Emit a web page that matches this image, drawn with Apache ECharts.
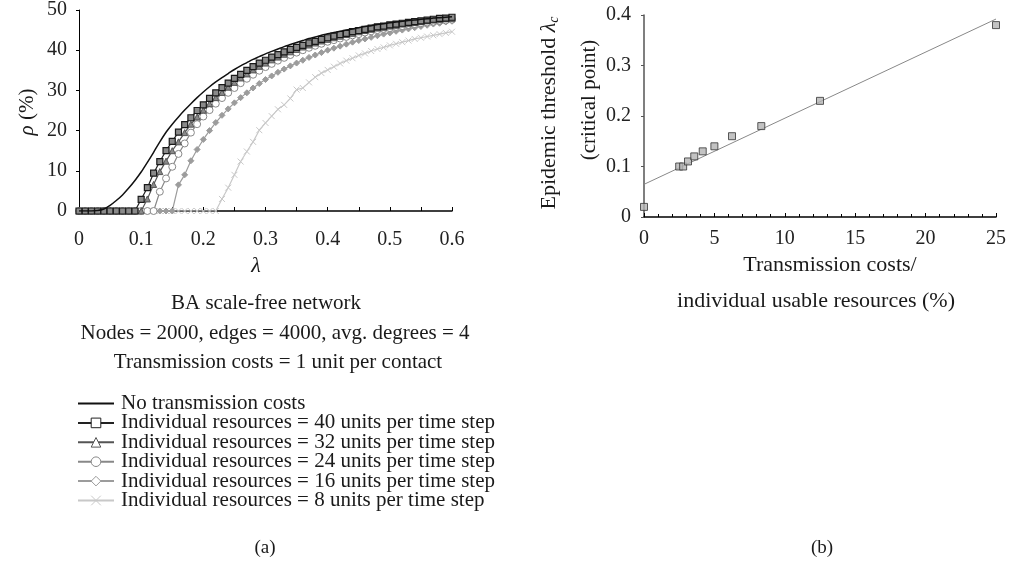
<!DOCTYPE html>
<html><head><meta charset="utf-8">
<script src="https://cdn.jsdelivr.net/npm/echarts@6/dist/echarts.min.js"></script>
<style>html,body{margin:0;padding:0;background:#fff}#c{width:1009px;height:571px}</style>
</head><body><div id="c"></div>
<script>
// ---- Panel (a) data ----
const lambdaVals = [0,0.01,0.02,0.03,0.04,0.05,0.06,0.07,0.08,0.09,0.10,0.11,0.12,0.13,0.14,0.15,0.16,0.17,0.18,0.19,0.20,0.21,0.22,0.23,0.24,0.25,0.26,0.27,0.28,0.29,0.30,0.31,0.32,0.33,0.34,0.35,0.36,0.37,0.38,0.39,0.40,0.41,0.42,0.43,0.44,0.45,0.46,0.47,0.48,0.49,0.50,0.51,0.52,0.53,0.54,0.55,0.56,0.57,0.58,0.59,0.60];
const noCost = [0,0,0,0.1,0.5,1.4,2.6,4.0,5.7,7.6,9.7,12.1,14.6,17.2,19.6,21.6,23.4,25.1,26.7,28.2,29.6,30.9,32.1,33.2,34.2,35.2,36.1,36.9,37.7,38.4,39.1,39.7,40.3,40.9,41.4,41.9,42.4,42.9,43.3,43.7,44.1,44.4,44.7,45.0,45.3,45.6,45.9,46.1,46.4,46.6,46.8,47.0,47.2,47.4,47.5,47.7,47.8,48.0,48.1,48.2,48.3];
const res40 = [0,0,0,0,0,0,0,0,0,0,2.9,5.8,9.4,12.3,15.0,17.3,19.6,21.5,23.2,25.0,26.4,28.0,29.4,30.7,31.8,33.0,34.0,35.0,35.9,36.8,37.5,38.3,38.9,39.6,40.2,40.7,41.2,41.8,42.2,42.7,43.1,43.5,43.9,44.2,44.6,44.9,45.2,45.5,45.8,46.0,46.3,46.5,46.7,46.9,47.1,47.3,47.5,47.7,47.9,48.0,48.2];
const res32 = [0,0,0,0,0,0,0,0,0,0,0,3.0,6.6,9.8,12.4,15.0,17.2,19.5,21.6,23.4,25.1,26.7,28.2,29.5,30.8,32.0,33.1,34.1,35.1,36.0,36.8,37.6,38.3,39.0,39.6,40.2,40.8,41.3,41.8,42.3,42.7,43.1,43.5,43.9,44.2,44.6,44.9,45.2,45.5,45.7,46.0,46.2,46.5,46.7,46.9,47.1,47.3,47.5,47.6,47.8,47.9];
const res24 = [0,0,0,0,0,0,0,0,0,0,0,0,0,4.8,8.1,11.0,14.2,16.8,19.5,21.6,23.5,25.1,26.7,28.1,29.4,30.6,31.8,32.9,33.9,34.9,35.8,36.6,37.4,38.1,38.8,39.4,40.0,40.6,41.1,41.6,42.1,42.5,42.9,43.3,43.7,44.0,44.4,44.7,45.0,45.3,45.5,45.8,46.0,46.3,46.5,46.7,46.9,47.1,47.3,47.4,47.6];
const res16 = [0,0,0,0,0,0,0,0,0,0,0,0,0,0,0,0,6.5,9.0,12.5,15.3,17.8,20.0,22.0,23.8,25.4,26.9,28.2,29.4,30.6,31.7,32.7,33.6,34.5,35.3,36.1,36.8,37.5,38.2,38.8,39.4,40.0,40.5,41.0,41.5,42.0,42.4,42.8,43.2,43.6,44.0,44.3,44.7,45.0,45.3,45.6,45.9,46.2,46.5,46.7,47.0,47.2];
const res8 = [0,0,0,0,0,0,0,0,0,0,0,0,0,0,0,0,0,0,0,0,0,0,0,3.0,5.8,9.0,12.3,14.8,17.2,20.1,21.9,23.6,25.3,26.4,28.0,30.2,30.6,32.0,33.3,34.3,35.1,35.9,36.7,37.4,38.0,38.7,39.2,39.8,40.3,40.7,41.2,41.6,42.0,42.4,42.8,43.1,43.4,43.7,44.0,44.3,44.6];
const legendNames = ['No transmission costs','Individual resources = 40 units per time step','Individual resources = 32 units per time step','Individual resources = 24 units per time step','Individual resources = 16 units per time step','Individual resources = 8 units per time step'];
// ---- Panel (b) data ----
const costRatio = [0,2.5,2.78,3.125,3.57,4.17,5,6.25,8.33,12.5,25];
const threshold = [0.02,0.10,0.10,0.11,0.12,0.13,0.14,0.16,0.18,0.23,0.38];

const SERIF = '"Liberation Serif", "DejaVu Serif", serif';
const pair = (xs, ys) => xs.map((x, i) => [x, ys[i]]);

// least squares trend line for panel (b)
const n = costRatio.length;
const mx = costRatio.reduce((a,b)=>a+b,0)/n, my = threshold.reduce((a,b)=>a+b,0)/n;
let sxy=0, sxx=0;
for (let i=0;i<n;i++){ sxy+=(costRatio[i]-mx)*(threshold[i]-my); sxx+=(costRatio[i]-mx)**2; }
const slope = sxy/sxx, icpt = my - slope*mx;
const trend = [[0, icpt],[25, icpt+slope*25]];

const crossPath = 'path://M0,0L10,10M10,0L0,10';

const chart = echarts.init(document.getElementById('c'), null, {renderer:'canvas'});
const axisLbl = {fontFamily: SERIF, fontSize: 20, color: '#222'};
const T = (x, y, text, size, extra) => Object.assign({type: 'text', x: x, y: y,
  style: {text: text, font: size + 'px ' + SERIF, fill: '#1a1a1a', align: 'center', verticalAlign: 'middle'}}, extra || {});
chart.setOption({
  animation: false,
  textStyle: {fontFamily: SERIF},
  grid: [
    {left: 79, top: 10, width: 373, height: 201, containLabel: false},
    {left: 644, top: 15, width: 352, height: 202, containLabel: false}
  ],
  xAxis: [
    {gridIndex: 0, type: 'value', min: 0, max: 0.6, interval: 0.1,
     axisLine: {lineStyle: {color: '#000', width: 1.5}},
     axisTick: {show: true, inside: true, length: 4, lineStyle: {color: '#000'}},
     minorTick: {show: true, splitNumber: 2, length: 4, lineStyle: {color: '#000'}},
     splitLine: {show: false},
     axisLabel: Object.assign({margin: 19, formatter: v => v === 0 ? '0' : v.toFixed(1)}, axisLbl)},
    {gridIndex: 1, type: 'value', min: 0, max: 25, interval: 5,
     axisLine: {lineStyle: {color: '#000', width: 1.5}},
     axisTick: {show: true, inside: true, length: 4, lineStyle: {color: '#000'}},
     minorTick: {show: true, splitNumber: 5, length: 3, lineStyle: {color: '#000'}},
     splitLine: {show: false},
     axisLabel: Object.assign({margin: 12}, axisLbl)}
  ],
  yAxis: [
    {gridIndex: 0, type: 'value', min: 0, max: 50, interval: 10,
     axisLine: {show: true, lineStyle: {color: '#000', width: 1}},
     axisTick: {show: true, length: 3, lineStyle: {color: '#000'}},
     splitLine: {show: false},
     axisLabel: Object.assign({margin: 12}, axisLbl)},
    {gridIndex: 1, type: 'value', min: 0, max: 0.4, interval: 0.1,
     axisLine: {show: true, lineStyle: {color: '#555', width: 1.5}},
     axisTick: {show: true, length: 3, lineStyle: {color: '#555'}},
     splitLine: {show: false},
     axisLabel: Object.assign({margin: 13, formatter: v => v === 0 ? '0' : v.toFixed(1)}, axisLbl)}
  ],
  legend: {
    orient: 'vertical', left: 72, top: 388, itemWidth: 36, itemHeight: 12, itemGap: -1.6,
    textStyle: {fontFamily: SERIF, fontSize: 21, color: '#1a1a1a', padding: [0,0,0,2]},
    data: [
      {name: legendNames[0], itemStyle: {opacity: 0}},
      {name: legendNames[1], itemStyle: {color: '#fff', borderColor: '#222', borderWidth: 1}},
      {name: legendNames[2], itemStyle: {color: '#fff', borderColor: '#555', borderWidth: 1}},
      {name: legendNames[3], itemStyle: {color: '#fff', borderColor: '#888', borderWidth: 1}},
      {name: legendNames[4], itemStyle: {color: '#fff', borderColor: '#999', borderWidth: 1}},
      {name: legendNames[5], itemStyle: {color: '#c8c8c8', borderColor: '#c8c8c8', borderWidth: 1}}
    ]
  },
  series: [
    {name: legendNames[0], type: 'line', xAxisIndex: 0, yAxisIndex: 0, z: 8, symbol: 'none', smooth: 0.3,
     lineStyle: {color: '#111', width: 1.5}, itemStyle: {color: '#111'}, data: pair(lambdaVals, noCost)},
    {name: legendNames[1], type: 'line', xAxisIndex: 0, yAxisIndex: 0, z: 7, symbol: 'rect', symbolSize: 6,
     lineStyle: {color: '#222', width: 1.2}, itemStyle: {color: '#8a8a8a', borderColor: '#1a1a1a', borderWidth: 1.2}, data: pair(lambdaVals, res40)},
    {name: legendNames[2], type: 'line', xAxisIndex: 0, yAxisIndex: 0, z: 6, symbol: 'triangle', symbolSize: 6,
     lineStyle: {color: '#555', width: 1.2}, itemStyle: {color: '#8a8a8a', borderColor: '#555', borderWidth: 1}, data: pair(lambdaVals, res32)},
    {name: legendNames[3], type: 'line', xAxisIndex: 0, yAxisIndex: 0, z: 5, symbol: 'circle', symbolSize: 7,
     lineStyle: {color: '#888', width: 1.2}, itemStyle: {color: '#fff', borderColor: '#888', borderWidth: 1}, data: pair(lambdaVals, res24)},
    {name: legendNames[4], type: 'line', xAxisIndex: 0, yAxisIndex: 0, z: 4, symbol: 'diamond', symbolSize: 6,
     lineStyle: {color: '#9c9c9c', width: 1.2}, itemStyle: {color: '#9c9c9c', borderColor: '#9c9c9c', borderWidth: 1}, data: pair(lambdaVals, res16)},
    {name: legendNames[5], type: 'line', xAxisIndex: 0, yAxisIndex: 0, z: 3, symbol: crossPath, symbolSize: 6,
     lineStyle: {color: '#c8c8c8', width: 1.2}, itemStyle: {color: '#c8c8c8', borderColor: '#c8c8c8', borderWidth: 1}, data: pair(lambdaVals, res8)},
    {name: 'trend', type: 'line', xAxisIndex: 1, yAxisIndex: 1, symbol: 'none', z: 2,
     lineStyle: {color: '#888', width: 1}, data: trend},
    {name: 'threshold', type: 'scatter', xAxisIndex: 1, yAxisIndex: 1, symbol: 'rect', symbolSize: 7, z: 5,
     itemStyle: {color: '#b4b4b4', borderColor: '#333', borderWidth: 1}, data: pair(costRatio, threshold)}
  ],
  graphic: [
    T(27, 112, '{it|ρ} (%)', 21, {rotation: Math.PI/2, style: {text: '{it|ρ} (%)', font: '21px ' + SERIF, fill: '#1a1a1a', align: 'center', verticalAlign: 'middle',
      rich: {it: {font: 'italic 21px ' + SERIF, fill: '#1a1a1a'}}}}),
    T(256, 266, 'λ', 22, {style: {text: 'λ', font: 'italic 22px ' + SERIF, fill: '#1a1a1a', align: 'center', verticalAlign: 'middle'}}),
    T(266, 303, 'BA scale-free network', 21),
    T(275, 333, 'Nodes = 2000, edges = 4000, avg. degrees = 4', 21),
    T(278, 362, 'Transmission costs = 1 unit per contact', 21),
    T(265, 548, '(a)', 19),
    T(822, 548, '(b)', 19),
    T(830, 265, 'Transmission costs/', 22),
    T(816, 301, 'individual usable resources (%)', 22),
    {type: 'text', x: 549, y: 113, rotation: Math.PI/2, style: {text: 'Epidemic threshold {it|λ}{sub|c}', font: '22px ' + SERIF, fill: '#1a1a1a', align: 'center', verticalAlign: 'middle',
      rich: {it: {font: 'italic 22px ' + SERIF, fill: '#1a1a1a'}, sub: {font: 'italic 14px ' + SERIF, fill: '#1a1a1a', verticalAlign: 'bottom', padding: [10,0,0,0]}}}},
    T(589, 100, '(critical point)', 21, {rotation: Math.PI/2})
  ]
});
</script></body></html>
